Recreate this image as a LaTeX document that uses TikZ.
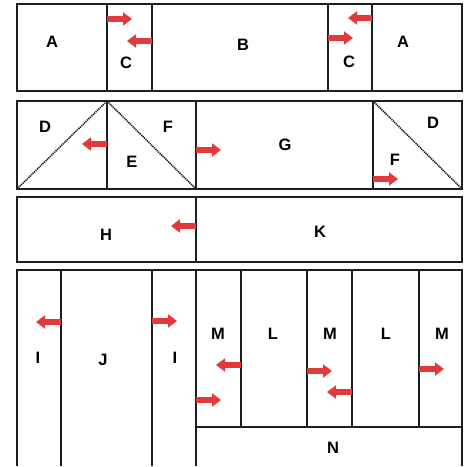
\documentclass[tikz,border=0pt]{standalone}
\usepackage{fontspec}
\setmainfont{Liberation Sans}
\usetikzlibrary{arrows.meta}
\definecolor{arrowred}{RGB}{226,58,58}
\definecolor{edge}{RGB}{28,32,28}

\begin{document}
\begin{tikzpicture}[
    x=1pt, y=-1pt,
    panel/.style={draw=edge, line width=2.2pt},
    wall/.style={draw=edge, line width=1.7pt},
    diag/.style={draw=edge, line width=1.6pt, dash pattern=on 1.2pt off 0.8pt},
    lbl/.style={font=\fontsize{16.5}{20}\selectfont\bfseries, inner sep=0pt},
    push/.style={-{Triangle[length=9pt,width=13pt]}, line width=5.5pt, draw=arrowred},
]
\useasboundingbox (0,0) rectangle (470,466);

% --- Row 1: A | C | B | C | A ---
\draw[panel] (17,4) rectangle (462,91);
\draw[wall] (107,4) -- (107,91);
\draw[wall] (152,4) -- (152,91);
\draw[wall] (328,4) -- (328,91);
\draw[wall] (372,4) -- (372,91);
\node[lbl] (a1) at (52,42)  {A};
\node[lbl] (c1) at (126,63) {C};
\node[lbl] (b)  at (243,45) {B};
\node[lbl] (c2) at (349,62) {C};
\node[lbl] (a2) at (403,42) {A};
\draw[push] (107,19) -- (132,19);
\draw[push] (152,41) -- (127,41);
\draw[push] (372,18) -- (348,18);
\draw[push] (328,38) -- (353,38);

% --- Row 2: D/E/F triangles, G, F/D ---
\draw[panel] (17,101) rectangle (462,189);
\draw[wall] (107,101) -- (107,189);
\draw[wall] (196,101) -- (196,189);
\draw[wall] (373,101) -- (373,189);
\draw[diag] (17,189) -- (107,101) -- (196,189);
\draw[diag] (373,101) -- (462,189);
\node[lbl] (d1) at (45,127)  {D};
\node[lbl] (e)  at (132,162) {E};
\node[lbl] (f1) at (168,127) {F};
\node[lbl] (g)  at (285,145) {G};
\node[lbl] (d2) at (433,123) {D};
\node[lbl] (f2) at (395,160) {F};
\draw[push] (107,144) -- (82,144);
\draw[push] (196,150) -- (221,150);
\draw[push] (373,179) -- (398,179);

% --- Row 3: H | K ---
\draw[panel] (17,197) rectangle (462,262);
\draw[wall] (196,197) -- (196,262);
\node[lbl] (h) at (106,235) {H};
\node[lbl] (k) at (320,232) {K};
\draw[push] (196,226) -- (171,226);

% --- Row 4: I | J | I | M L M L M over N (open at the bottom) ---
\draw[panel] (17,466) -- (17,270) -- (462,270) -- (462,466);
\draw[wall] (61,270) -- (61,466);
\draw[wall] (152,270) -- (152,466);
\draw[wall] (196,270) -- (196,466);
\draw[wall] (241,270) -- (241,427);
\draw[wall] (307,270) -- (307,427);
\draw[wall] (352,270) -- (352,427);
\draw[wall] (419,270) -- (419,427);
\draw[wall] (196,427) -- (462,427);
\node[lbl] (i1) at (38,358)  {I};
\node[lbl] (j)  at (103,360) {J};
\node[lbl] (i2) at (175,358) {I};
\node[lbl] (m1) at (218,334) {M};
\node[lbl] (l1) at (273,334) {L};
\node[lbl] (m2) at (330,334) {M};
\node[lbl] (l2) at (386,334) {L};
\node[lbl] (m3) at (442,334) {M};
\node[lbl] (n)  at (333,448) {N};
\draw[push] (61,322) -- (36,322);
\draw[push] (152,321) -- (177,321);
\draw[push] (241,365) -- (216,365);
\draw[push] (196,400) -- (221,400);
\draw[push] (307,371) -- (332,371);
\draw[push] (352,392) -- (327,392);
\draw[push] (419,369) -- (444,369);

\end{tikzpicture}
\end{document}
